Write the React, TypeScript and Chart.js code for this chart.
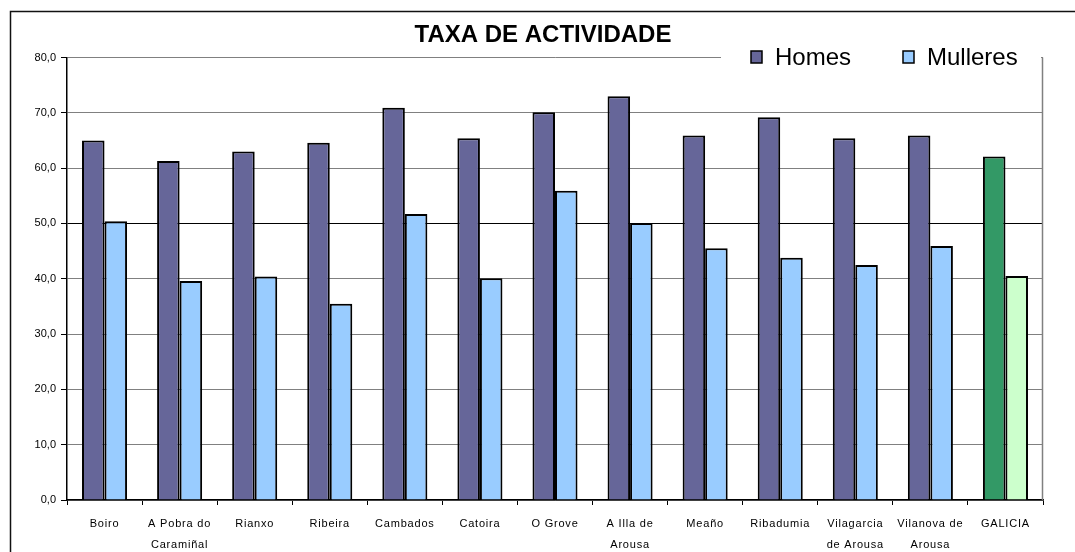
import React, { useEffect, useRef } from 'react';
import { Chart, registerables } from 'chart.js';

Chart.register(...registerables);

const titleText = 'TAXA DE ACTIVIDADE';
const seriesNames = ['Homes', 'Mulleres'];
const categories: (string | string[])[] = [
  'Boiro',
  ['A Pobra do', 'Caramiñal'],
  'Rianxo',
  'Ribeira',
  'Cambados',
  'Catoira',
  'O Grove',
  ['A Illa de', 'Arousa'],
  'Meaño',
  'Ribadumia',
  ['Vilagarcia', 'de Arousa'],
  ['Vilanova de', 'Arousa'],
  'GALICIA',
];
const homes = [65.0, 61.3, 63.0, 64.6, 70.9, 65.4, 70.1, 73.0, 65.9, 69.2, 65.4, 65.9, 62.1];
const mulleres = [50.4, 39.6, 40.4, 35.5, 51.7, 40.1, 55.9, 50.1, 45.5, 43.8, 42.5, 45.9, 40.5];
const yMin = 0;
const yMax = 80;
const yStep = 10;
const highlightCategory = 'GALICIA';

const FONT = '"Liberation Sans", Arial, sans-serif';
const homesColor = '#666699';
const mulleresColor = '#99CCFF';
const homesHighlight = '#339966';
const mulleresHighlight = '#CCFFCC';

const isHighlight = (i: number) => categories[i] === highlightCategory;

const framePlugin = {
  id: 'frame',
  beforeDraw(chart: any) {
    const { ctx, width, height } = chart;
    ctx.save();
    ctx.fillStyle = '#fff';
    ctx.fillRect(0, 0, width, height);
    ctx.strokeStyle = '#111';
    ctx.lineWidth = 1.5;
    ctx.beginPath();
    ctx.moveTo(10.5, height);
    ctx.lineTo(10.5, 11.5);
    ctx.lineTo(width, 11.5);
    ctx.stroke();
    ctx.restore();
  },
  afterLayout(chart: any) {
    const xs = chart.scales.x;
    if (xs && !xs.__lsPatched) {
      const orig = xs.drawLabels.bind(xs);
      xs.drawLabels = (area: any) => {
        const c = chart.ctx as any;
        c.save();
        c.letterSpacing = '0.8px';
        orig(area);
        c.letterSpacing = '0px';
        c.restore();
      };
      xs.__lsPatched = true;
    }
    const ys = chart.scales.y;
    if (ys && !ys.__clipPatched) {
      ys._computeLabelArea = () => undefined;
      ys.__clipPatched = true;
    }
  },
  afterDraw(chart: any) {
    const { ctx, chartArea } = chart;
    ctx.save();
    // legend
    ctx.fillStyle = '#fff';
    ctx.fillRect(chartArea.right - 322, 38, 320, 30);
    const entries = [
      { label: seriesNames[0], color: homesColor, x: chartArea.right - 292 },
      { label: seriesNames[1], color: mulleresColor, x: chartArea.right - 140 },
    ];
    ctx.font = `24px ${FONT}`;
    ctx.textBaseline = 'alphabetic';
    ctx.textAlign = 'left';
    for (const e of entries) {
      ctx.fillStyle = e.color;
      ctx.fillRect(e.x, 51, 11, 12);
      ctx.strokeStyle = '#000';
      ctx.lineWidth = 1.5;
      ctx.strokeRect(e.x, 51, 11, 12);
      ctx.fillStyle = '#000';
      ctx.fillText(e.label, e.x + 24, 65);
    }
    // right border of plot area
    ctx.strokeStyle = '#808080';
    ctx.lineWidth = 1.5;
    ctx.beginPath();
    ctx.moveTo(chartArea.right - 0.5, chartArea.top);
    ctx.lineTo(chartArea.right - 0.5, chartArea.bottom);
    ctx.stroke();
    ctx.restore();
  },
};

export default function App() {
  const ref = useRef<HTMLCanvasElement | null>(null);
  useEffect(() => {
    if (!ref.current) return;
    const chart = new Chart(ref.current, {
      type: 'bar',
      data: {
        labels: categories,
        datasets: [
          {
            label: seriesNames[0],
            data: homes,
            backgroundColor: homes.map((_, i) => (isHighlight(i) ? homesHighlight : homesColor)),
            borderColor: '#000',
            borderWidth: 2,
          },
          {
            label: seriesNames[1],
            data: mulleres,
            backgroundColor: mulleres.map((_, i) => (isHighlight(i) ? mulleresHighlight : mulleresColor)),
            borderColor: '#000',
            borderWidth: 2,
          },
        ],
      },
      options: {
        responsive: false,
        animation: false,
        layout: { padding: { left: 43, right: 32, top: 0, bottom: 0 } },
        datasets: { bar: { categoryPercentage: 0.6, barPercentage: 1.0 } },
        plugins: {
          legend: { display: false },
          tooltip: { enabled: false },
          title: {
            display: true,
            text: titleText,
            color: '#000',
            font: { family: FONT, size: 24, weight: 'bold', lineHeight: 1 },
            padding: { top: 23, bottom: 10.5 },
          },
        },
        scales: {
          x: {
            grid: {
              display: true,
              drawOnChartArea: false,
              drawTicks: true,
              tickLength: 5,
              color: '#000',
              offset: true,
            },
            border: { display: true, color: '#000', width: 1.5 },
            ticks: {
              autoSkip: false,
              maxRotation: 0,
              minRotation: 0,
              padding: 8,
              color: '#000',
              font: { family: FONT, size: 11, lineHeight: '21px' as any },
            },
            afterFit(scale: any) {
              scale.height = 52;
            },
          },
          y: {
            min: yMin,
            max: yMax,
            ticks: {
              stepSize: yStep,
              padding: 5,
              color: '#000',
              font: { family: FONT, size: 11 },
              callback: (v: any) => Number(v).toFixed(1).replace('.', ','),
            },
            grid: {
              color: (c: any) => (c.tick && c.tick.value === 50 ? '#000' : '#808080'),
              tickColor: '#000',
              tickLength: 6,
              lineWidth: 1,
            },
            border: { display: true, color: '#000', width: 1.5 },
            afterFit(scale: any) {
              scale.width = 24;
            },
          },
        },
      },
      plugins: [framePlugin],
    });
    return () => chart.destroy();
  }, []);
  return (
    <div style={{ position: 'fixed', left: 0, top: 0, width: 1075, height: 552 }}>
      <canvas ref={ref} width={1075} height={552} style={{ display: 'block' }} />
    </div>
  );
}
